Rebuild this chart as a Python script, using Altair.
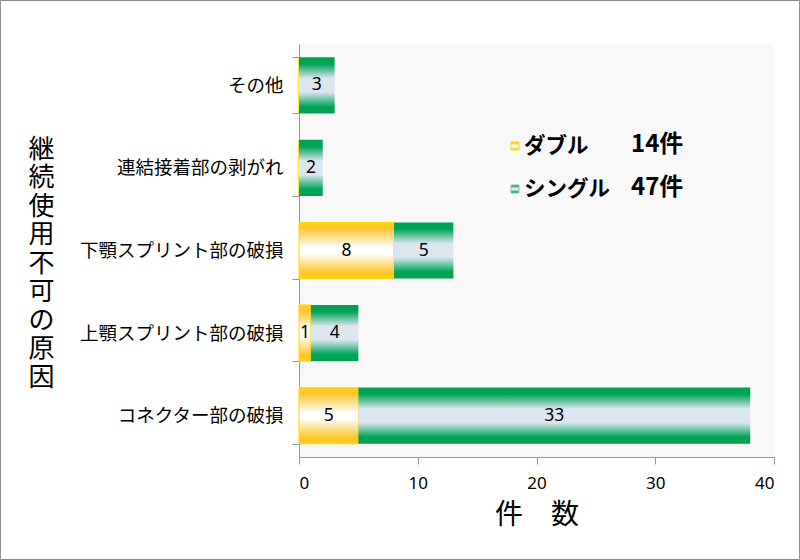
import altair as alt
import pandas as pd

categories = ["その他", "連結接着部の剥がれ", "下顎スプリント部の破損", "上顎スプリント部の破損", "コネクター部の破損"]
double_vals = [0, 0, 8, 1, 5]
single_vals = [3, 2, 5, 4, 33]
series_names = ["ダブル", "シングル"]
series_totals = ["14件", "47件"]
x_ticks = [0, 10, 20, 30, 40]

rows = []
for c, d, s in zip(categories, double_vals, single_vals):
    rows.append({"cat": c, "series": series_names[0], "order": 0, "value": d})
    rows.append({"cat": c, "series": series_names[1], "order": 1, "value": s})
df = pd.DataFrame(rows)

FONT = "Noto Sans CJK JP"

green_grad = alt.Gradient(
    gradient="linear", x1=0, x2=0, y1=0, y2=1,
    stops=[
        alt.GradientStop(offset=0, color="#00a050"),
        alt.GradientStop(offset=0.12, color="#00a458"),
        alt.GradientStop(offset=0.38, color="#dbe6f1"),
        alt.GradientStop(offset=0.62, color="#dbe6f1"),
        alt.GradientStop(offset=0.88, color="#00a458"),
        alt.GradientStop(offset=1, color="#00a050"),
    ],
)
yellow_grad = alt.Gradient(
    gradient="linear", x1=0, x2=0, y1=0, y2=1,
    stops=[
        alt.GradientStop(offset=0, color="#ffd21c"),
        alt.GradientStop(offset=0.1, color="#fcc52a"),
        alt.GradientStop(offset=0.45, color="#ffffff"),
        alt.GradientStop(offset=0.55, color="#ffffff"),
        alt.GradientStop(offset=0.9, color="#fcc52a"),
        alt.GradientStop(offset=1, color="#ffd21c"),
    ],
)

y_enc = alt.Y(
    "cat:N",
    sort=categories,
    scale=alt.Scale(paddingInner=0.32, paddingOuter=0.16),
    axis=alt.Axis(
        title=list("継続使用不可の原因"),
        titleFont=FONT, titleFontSize=26, titleFontWeight="normal",
        titleAngle=0, titleAlign="center", titleBaseline="top",
        titleLineHeight=28.5, titleX=-258, titleY=92, titleColor="black",
        labelFont=FONT, labelFontSize=18.5, labelColor="black", labelPadding=9,
        tickBand="extent", tickSize=7, tickColor="#999999",
        domainColor="#999999", labelLimit=300,
    ),
)
x_scale = alt.Scale(domain=[0, 40], nice=False)
x_axis = alt.Axis(
    values=x_ticks, title="件　数", titleFont=FONT, titleFontSize=28,
    titleFontWeight="normal", titleColor="black", titleBaseline="middle", titleY=58,
    labelFont="Noto Sans", labelFontSize=17, labelColor="black", labelPadding=11,
    tickSize=7, tickColor="#999999", domainColor="#999999", grid=False,
)

base = alt.Chart(df).transform_stack(
    stack="value", as_=["x0", "x1"], groupby=["cat"], sort=[alt.SortField("order")]
).transform_calculate(mid="(datum.x0 + datum.x1) / 2")

bar_d = base.transform_filter(f"datum.series == '{series_names[0]}'").mark_bar(
    color=yellow_grad, stroke="#ffd800", strokeWidth=1
).encode(x=alt.X("x0:Q", scale=x_scale, axis=x_axis), x2="x1:Q", y=y_enc)

bar_s = base.transform_filter(f"datum.series == '{series_names[1]}'").mark_bar(
    color=green_grad
).encode(x=alt.X("x0:Q", scale=x_scale, axis=x_axis), x2="x1:Q", y=y_enc)

labels = base.transform_filter("datum.value > 0").mark_text(
    font="Noto Sans", fontSize=17.5, color="black", baseline="middle", align="center"
).encode(x=alt.X("mid:Q", scale=x_scale, axis=x_axis), y=y_enc, text="value:Q")

# legend (inside plot)
leg_df = pd.DataFrame({"series": series_names, "total": series_totals})
legend_layers = []
grads = [yellow_grad, green_grad]
strokes = ["#ffd800", "#7fcfa8"]
for i, (nm, tot) in enumerate(zip(series_names, series_totals)):
    yc = 102 + 43 * i
    sq = alt.Chart(leg_df.iloc[[i]]).mark_rect(color=grads[i], stroke=strokes[i], strokeWidth=1).encode(
        x=alt.value(212), x2=alt.value(220), y=alt.value(yc - 4), y2=alt.value(yc + 4)
    )
    t1 = alt.Chart(leg_df.iloc[[i]]).mark_text(
        font=FONT, fontSize=21.5, fontWeight="bold", align="left", baseline="middle", color="black"
    ).encode(x=alt.value(225), y=alt.value(yc + 1), text="series:N")
    t2 = alt.Chart(leg_df.iloc[[i]]).mark_text(
        font=FONT, fontSize=24, fontWeight="bold", align="left", baseline="middle", color="black"
    ).encode(x=alt.value(332), y=alt.value(yc - 1), text="total:N")
    legend_layers += [sq, t1, t2]

frame = alt.Chart(leg_df.iloc[[0]]).mark_rect(fill=None, stroke="#8a8a8a", strokeWidth=1).encode(
    x=alt.value(-298.5), x2=alt.value(800 - 299 - 0.5), y=alt.value(-43.5), y2=alt.value(560 - 44 - 0.5)
)

chart = alt.layer(bar_d, bar_s, labels, *legend_layers, frame).properties(
    width=475, height=413,
    padding={"left": 299, "top": 44, "right": 26, "bottom": 103},
    autosize=alt.AutoSizeParams(type="none"),
    background="white",
).configure_view(fill="#f8f8f8", stroke=None)

chart.save("out.html", embed_options={"renderer": "svg", "actions": False})
